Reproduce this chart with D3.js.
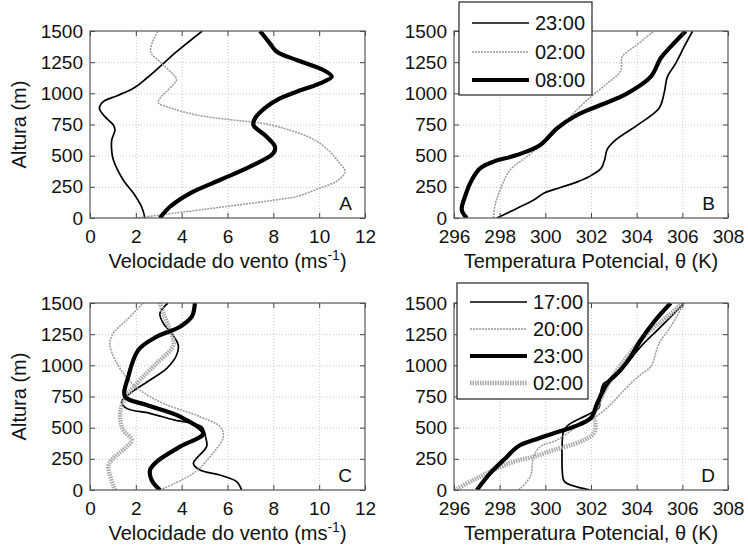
<!DOCTYPE html>
<html lang="pt">
<head>
<meta charset="UTF-8">
<title>perfis</title>
<script src="https://cdn.jsdelivr.net/npm/d3@7"></script>
<style>
  body { margin: 0; background: #fff; }
  text { font-family: "Liberation Sans", Arial, sans-serif; fill: #111; }
  .grid line { stroke: #c8c8c8; stroke-dasharray: 1,2; }
  .grid path { display: none; }
  .ax path { display: none; }
  .ax line { stroke: #444; }
</style>
</head>
<body>
<script>
// ---- data ----
let windTicks = [0, 2, 4, 6, 8, 10, 12];
let thetaTicks = [296, 298, 300, 302, 304, 306, 308];
let heightTicks = [0, 250, 500, 750, 1000, 1250, 1500];

// panel A : wind speed (ms-1)
let hA23 = [0, 90, 198, 305, 465, 532, 626, 706, 746, 813, 880, 933, 979, 1040, 1121, 1214, 1334, 1500];
let vA23 = [2.4, 2.25, 1.9, 1.45, 1.02, 0.95, 0.95, 1.09, 1.02, 0.65, 0.41, 0.58, 1.16, 1.89, 2.47, 3.05, 3.78, 4.9];
let hA02 = [0, 70, 150, 171, 238, 300, 372, 450, 532, 626, 706, 760, 789, 826, 893, 925, 960, 1107, 1134, 1254, 1330, 1427, 1500];
let vA02 = [2.0, 5.0, 8.3, 9.0, 10.0, 10.8, 11.13, 10.85, 10.47, 9.8, 8.7, 7.5, 6.1, 4.65, 3.35, 2.98, 3.05, 3.78, 3.71, 3.05, 2.65, 2.76, 2.98];
let hA08 = [0, 90, 198, 305, 412, 519, 572, 652, 746, 799, 893, 960, 1013, 1080, 1134, 1187, 1267, 1334, 1401, 1500];
let vA08 = [3.05, 3.49, 4.36, 5.67, 6.98, 8.0, 8.07, 7.71, 7.13, 7.2, 7.71, 8.29, 9.02, 10.03, 10.55, 10.18, 9.02, 8.15, 7.85, 7.42];

// panel B : potential temperature (K)
let hB23 = [0, 77, 144, 198, 245, 290, 340, 400, 470, 550, 626, 745, 880, 1000, 1134, 1240, 1374, 1500];
let tB23 = [297.88, 298.75, 299.49, 299.93, 300.66, 301.4, 302.0, 302.45, 302.6, 302.71, 303.08, 304.03, 304.98, 305.2, 305.35, 305.71, 306.08, 306.45];
let hB02 = [0, 104, 225, 385, 492, 626, 786, 946, 1080, 1180, 1294, 1374, 1500];
let tB02 = [297.73, 297.8, 298.02, 298.46, 299.19, 300.07, 300.95, 301.83, 302.71, 303.3, 303.37, 303.9, 304.76];
let hB08 = [0, 64, 171, 305, 398, 452, 505, 586, 719, 826, 906, 1000, 1134, 1281, 1374, 1500];
let tB08 = [296.56, 296.34, 296.48, 296.78, 297.14, 297.73, 298.75, 299.78, 300.51, 301.39, 302.42, 303.59, 304.62, 305.05, 305.49, 306.15];

// panel C : wind speed (ms-1)
let hC17 = [0, 67, 120, 160, 214, 254, 348, 420, 508, 560, 615, 655, 709, 775, 882, 976, 1083, 1163, 1257, 1337, 1417, 1500];
let vC17 = [6.62, 6.4, 5.67, 4.8, 4.51, 4.65, 5.09, 5.05, 4.87, 3.7, 2.62, 1.6, 1.38, 1.75, 2.62, 3.35, 3.78, 3.85, 3.56, 3.2, 3.05, 3.4];
let hC20 = [0, 134, 267, 428, 508, 588, 695, 802, 936, 1163, 1257, 1364, 1500];
let vC20 = [3.05, 4.51, 5.24, 5.82, 5.67, 4.8, 3.2, 2.18, 1.45, 0.87, 1.02, 1.6, 2.33];
let hC23 = [0, 80, 160, 227, 348, 455, 588, 682, 749, 909, 1123, 1230, 1310, 1390, 1500];
let vC23 = [3.05, 2.69, 2.62, 2.91, 3.93, 4.94, 3.93, 2.47, 1.53, 1.67, 2.11, 2.91, 3.93, 4.44, 4.58];
let hC02 = [0, 187, 241, 348, 401, 481, 588, 709, 882, 1016, 1163, 1283, 1417, 1500];
let vC02 = [1.09, 0.8, 0.95, 1.6, 1.82, 1.45, 1.31, 1.45, 2.18, 2.91, 3.64, 3.49, 3.2, 3.05];

// panel D : potential temperature (K)
let hD17 = [0, 53, 80, 267, 470, 520, 575, 615, 660, 760, 855, 896, 1003, 1150, 1283, 1417, 1500];
let tD17 = [301.98, 300.95, 300.8, 300.73, 300.8, 301.0, 301.54, 301.98, 302.35, 302.4, 302.56, 303.0, 303.52, 304.18, 304.91, 305.64, 306.08];
let hD20 = [0, 107, 267, 348, 401, 508, 615, 855, 930, 989, 1176, 1310, 1500];
let tD20 = [298.83, 299.34, 299.49, 299.78, 300.51, 301.39, 302.42, 303.74, 304.2, 304.62, 304.98, 305.49, 306.08];
let hD23 = [0, 134, 267, 321, 361, 401, 455, 508, 575, 695, 855, 963, 1070, 1203, 1350, 1500];
let tD23 = [297.0, 297.58, 298.32, 298.61, 298.9, 299.49, 300.37, 301.25, 301.98, 302.27, 302.71, 303.3, 303.74, 304.18, 304.76, 305.49];
let hD02 = [0, 80, 160, 227, 267, 321, 388, 455, 535, 588, 668, 882, 1070, 1257, 1390, 1500];
let tD02 = [296.04, 296.85, 297.73, 298.61, 299.49, 300.37, 301.54, 302.12, 302.2, 302.12, 302.27, 302.86, 303.59, 304.47, 305.35, 306.01];

let legendTop = ['23:00', '02:00', '08:00'];
let legendBottom = ['17:00', '20:00', '23:00', '02:00'];

// ---- styles ----
let styles = {
  thin: { stroke: '#000', width: 1.7, dash: null },
  gray: { stroke: '#9a9a9a', width: 1.5, dash: '2,1' },
  thick: { stroke: '#000', width: 4.2, dash: null },
  grayThick: { stroke: '#a9a9a9', width: 4.5, dash: '1.5,1' }
};

let width = 748;
let height = 551;

let svg = d3.select('body')
  .append('svg')
  .attr('width', width)
  .attr('height', height);

let panels = [
  { id: 'A', left: 90, right: 365, top: 31, bottom: 218, domain: [0, 12], ticks: windTicks,
    series: [[hA23, vA23, 'thin'], [hA02, vA02, 'gray'], [hA08, vA08, 'thick']] },
  { id: 'B', left: 454, right: 728, top: 31, bottom: 218, domain: [296, 308], ticks: thetaTicks,
    series: [[hB23, tB23, 'thin'], [hB02, tB02, 'gray'], [hB08, tB08, 'thick']] },
  { id: 'C', left: 90, right: 365, top: 303, bottom: 490, domain: [0, 12], ticks: windTicks,
    series: [[hC17, vC17, 'thin'], [hC20, vC20, 'gray'], [hC02, vC02, 'grayThick'], [hC23, vC23, 'thick']] },
  { id: 'D', left: 454, right: 728, top: 303, bottom: 490, domain: [296, 308], ticks: thetaTicks,
    series: [[hD17, tD17, 'thin'], [hD20, tD20, 'gray'], [hD02, tD02, 'grayThick'], [hD23, tD23, 'thick']] }
];

function drawPanel(p) {
  let x = d3.scaleLinear().domain(p.domain).range([p.left, p.right]);
  let y = d3.scaleLinear().domain([0, 1500]).range([p.bottom, p.top]);
  let w = p.right - p.left;
  let h = p.bottom - p.top;

  // grid
  svg.append('g').attr('class', 'grid')
    .attr('transform', 'translate(0,' + p.bottom + ')')
    .call(d3.axisBottom(x).tickValues(p.ticks.slice(1, -1)).tickSize(-h).tickFormat(''));
  svg.append('g').attr('class', 'grid')
    .attr('transform', 'translate(' + p.left + ',0)')
    .call(d3.axisLeft(y).tickValues(heightTicks.slice(1, -1)).tickSize(-w).tickFormat(''));

  // lines
  let clipId = 'clip' + p.id;
  svg.append('clipPath').attr('id', clipId)
    .append('rect').attr('x', p.left).attr('y', p.top).attr('width', w).attr('height', h);
  let g = svg.append('g').attr('clip-path', 'url(#' + clipId + ')');
  p.series.forEach(function (s) {
    let pts = s[0].map(function (hv, i) { return [s[1][i], hv]; });
    let st = styles[s[2]];
    g.append('path')
      .datum(pts)
      .attr('fill', 'none')
      .attr('stroke', st.stroke)
      .attr('stroke-width', st.width)
      .attr('stroke-dasharray', st.dash)
      .attr('stroke-linejoin', 'round')
      .attr('d', d3.line()
        .x(function (d) { return x(d[0]); })
        .y(function (d) { return y(d[1]); })
        .curve(d3.curveCatmullRom.alpha(0.5)));
  });

  // axes with inward ticks
  let bottomAxis = svg.append('g').attr('class', 'ax')
    .attr('transform', 'translate(0,' + p.bottom + ')')
    .call(d3.axisBottom(x).tickValues(p.ticks).tickFormat(d3.format('d'))
      .tickSizeInner(-5).tickSizeOuter(0).tickPadding(12));
  bottomAxis.selectAll('text').style('font-size', '19px');
  let leftAxis = svg.append('g').attr('class', 'ax')
    .attr('transform', 'translate(' + p.left + ',0)')
    .call(d3.axisLeft(y).tickValues(heightTicks).tickFormat(d3.format('d'))
      .tickSizeInner(-5).tickSizeOuter(0).tickPadding(7));
  leftAxis.selectAll('text').style('font-size', '19px');
  svg.append('g').attr('class', 'ax')
    .attr('transform', 'translate(0,' + p.top + ')')
    .call(d3.axisTop(x).tickValues(p.ticks).tickSizeInner(-5).tickSizeOuter(0).tickFormat(''));
  svg.append('g').attr('class', 'ax')
    .attr('transform', 'translate(' + p.right + ',0)')
    .call(d3.axisRight(y).tickValues(heightTicks).tickSizeInner(-5).tickSizeOuter(0).tickFormat(''));

  svg.append('rect')
    .attr('x', p.left).attr('y', p.top).attr('width', w).attr('height', h)
    .attr('fill', 'none').attr('stroke', '#555').attr('stroke-width', 1.2);

  svg.append('text')
    .attr('x', p.right - 13).attr('y', p.bottom - 8)
    .attr('text-anchor', 'end')
    .style('font-size', '19px')
    .text(p.id);

  // x titles
  let t = svg.append('text')
    .attr('x', (p.left + p.right) / 2)
    .attr('y', p.bottom + 50)
    .attr('text-anchor', 'middle')
    .style('font-size', '20px');
  if (p.domain[0] === 0) {
    t.append('tspan').text('Velocidade do vento (ms');
    t.append('tspan').attr('dy', -8).style('font-size', '14px').text('-1');
    t.append('tspan').attr('dy', 8).text(')');
  } else {
    t.text('Temperatura Potencial, \u03b8 (K)');
  }

  if (p.left < 200) {
    svg.append('text')
      .attr('transform', 'translate(26,' + (p.top + p.bottom) / 2 + ') rotate(-90)')
      .attr('text-anchor', 'middle')
      .style('font-size', '20px')
      .text('Altura (m)');
  }
}

panels.forEach(drawPanel);

function drawLegend(labels, keys, x0, y0, x1, y1, rowY) {
  let g = svg.append('g');
  g.append('rect')
    .attr('x', x0).attr('y', y0).attr('width', x1 - x0).attr('height', y1 - y0)
    .attr('fill', '#fff').attr('stroke', '#222').attr('stroke-width', 1.2);
  labels.forEach(function (lab, i) {
    let st = styles[keys[i]];
    let yy = rowY[i];
    g.append('line')
      .attr('x1', x0 + 13).attr('x2', x0 + 70)
      .attr('y1', yy).attr('y2', yy)
      .attr('stroke', st.stroke).attr('stroke-width', st.width)
      .attr('stroke-dasharray', st.dash);
    g.append('text')
      .attr('x', x0 + 76).attr('y', yy)
      .attr('dy', '0.36em')
      .style('font-size', '20px')
      .text(lab);
  });
}

drawLegend(legendTop, ['thin', 'gray', 'thick'], 459, 2, 592, 95, [23, 52, 80]);
drawLegend(legendBottom, ['thin', 'gray', 'thick', 'grayThick'], 457, 283, 588, 399, [302, 329, 356, 383]);
</script>
</body>
</html>
